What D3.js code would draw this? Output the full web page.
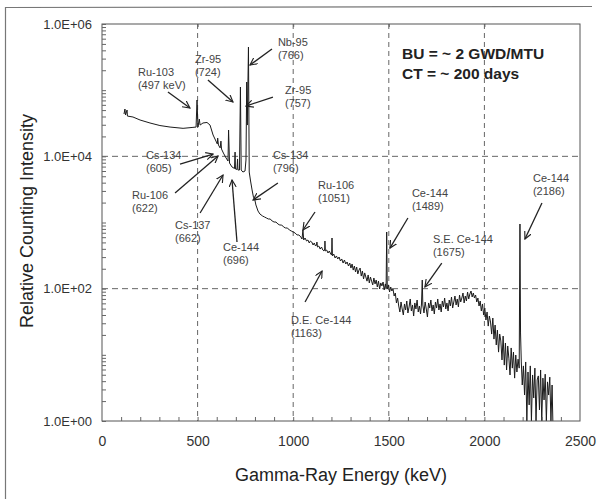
<!DOCTYPE html>
<html>
<head>
<meta charset="utf-8">
<style>
  body { margin: 0; background: #fff; }
  svg { display: block; font-family: "Liberation Sans", Arial, sans-serif; }
</style>
</head>
<body>
<svg id="chart" width="600" height="501"></svg>
<script src="https://cdn.jsdelivr.net/npm/d3@7"></script>
<script>
// gamma spectrum: energy (keV) / relative counting intensity
const spectrumKeV = [
  115, 120, 123, 131, 133, 162, 199, 251, 303, 356, 424, 471, 492, 497, 502, 509, 513, 528, 549, 565,
  581, 596, 603, 605, 609, 618, 622, 625, 635, 649, 659, 662, 667, 680, 693, 696, 698, 706, 709, 711,
  719, 724, 728, 737, 748, 753, 757, 760, 766, 770, 777, 785, 792, 798, 805, 816, 826,
  840, 850, 860, 870, 880, 890, 900, 910, 920, 930, 940, 950, 960, 970, 980, 990, 1000, 1010, 1020, 1030, 1040,
  1046, 1051, 1055, 1062, 1070, 1077, 1084, 1090, 1097, 1104, 1110, 1117, 1122, 1124, 1127, 1134, 1141, 1148, 1155, 1161,
  1165, 1166, 1168, 1175, 1182, 1189, 1196, 1201, 1203, 1205, 1212, 1219, 1226, 1233, 1240, 1247, 1254, 1261, 1268, 1275,
  1282, 1289, 1296,
  1302, 1308, 1314, 1320, 1326, 1332, 1338, 1344, 1350, 1356, 1362, 1368, 1374, 1380, 1386, 1392, 1398, 1404, 1410, 1416,
  1422, 1428, 1434, 1440, 1446, 1452, 1458, 1464, 1470, 1476, 1482, 1486, 1489, 1492, 1498, 1504, 1510, 1516, 1522, 1528,
  1534, 1540, 1546, 1552,
  1558, 1564, 1570, 1576, 1582, 1588, 1594, 1600, 1606, 1612, 1618, 1624, 1630, 1636, 1642, 1648, 1654, 1660, 1666, 1671,
  1675, 1678, 1684, 1690, 1696, 1702, 1708, 1714, 1720, 1726, 1732, 1738, 1744, 1750, 1756, 1762, 1768, 1774, 1780, 1786,
  1792, 1798, 1804, 1810, 1816, 1822, 1828, 1834, 1840, 1846, 1852, 1858, 1864, 1870, 1876, 1882, 1888, 1894, 1900, 1906,
  1912, 1918, 1924, 1930, 1936, 1942, 1948, 1954, 1960,
  1966, 1972, 1978, 1984, 1990, 1996, 2002, 2008, 2014, 2020, 2026, 2032, 2038, 2044, 2050, 2056, 2062, 2068, 2074, 2080,
  2086, 2092, 2098, 2104, 2110, 2116, 2122, 2128, 2134, 2140, 2146, 2152, 2158, 2164, 2170, 2176, 2182, 2186, 2189, 2193,
  2198, 2204, 2210, 2216, 2222, 2228, 2234, 2240, 2246, 2252, 2258, 2264, 2270, 2276, 2282, 2288, 2294, 2300, 2306, 2312,
  2318, 2324, 2330, 2336, 2342, 2348, 2354, 2358
];
const spectrumCounts = [
  43600, 51900, 42100, 50100, 40600, 39300, 35400, 31900, 29200, 27700, 26500, 27300, 27700, 71000, 27700, 36600, 29700, 31900, 32500, 29700,
  21000, 17000, 15400, 18900, 14800, 13400, 17000, 12900, 11200, 9440, 8490, 25000, 7920, 6900, 6550, 11600, 6430, 6350, 9120, 6210,
  6210, 111600, 6210, 5790, 6000, 8800, 132800, 29700, 449000, 5790, 4240, 3100, 2430, 2300, 1840, 1490, 1343,
  1253, 1210, 1169, 1130, 1130, 1053, 1017, 1017, 949, 916, 916, 855, 826, 826, 770, 744, 718, 694, 648, 648, 604,
  563, 770, 544, 583, 525, 544, 490, 525, 507, 457, 490, 441, 457, 507, 426, 441, 397, 426, 384, 371,
  397, 525, 371, 384, 346, 371, 334, 323, 583, 312, 334, 291, 312, 281, 301, 262, 281, 244, 271, 236,
  253, 220, 244,
  205, 236, 191, 220, 179, 212, 167, 191, 205, 155, 185, 140, 173, 150, 130, 161, 122, 150, 130, 114,
  145, 118, 135, 106, 130, 98.9, 122, 110, 126, 95.5, 118, 102, 718, 98.9, 114, 89.0, 106, 92.2, 98.9, 77.4,
  86.0, 60.8, 72.2, 54.7,
  44.4, 62.9, 49.3, 40.0, 58.7, 47.6, 65.1, 42.9, 52.9, 69.8, 46.0, 56.7, 38.6, 60.8, 49.3, 67.4, 44.4, 54.7, 41.4, 58.7,
  135, 56.7, 42.9, 62.9, 49.3, 37.3, 60.8, 51.0, 67.4, 46.0, 56.7, 41.4, 62.9, 51.0, 69.8, 47.6, 58.7, 44.4, 65.1, 52.9,
  72.2, 49.3, 60.8, 46.0, 67.4, 54.7, 74.8, 51.0, 62.9, 77.4, 56.7, 69.8, 52.9, 80.2, 62.9, 72.2, 86.0, 60.8, 77.4, 65.1,
  89.0, 69.8, 83.0, 92.2, 74.8, 86.0, 72.2, 80.2, 62.9,
  72.2, 54.7, 65.1, 46.0, 58.7, 40.0, 51.0, 33.6, 44.4, 27.2, 38.6, 31.3, 20.6, 36.0, 17.3, 28.2, 14.1, 23.7, 11.0, 20.6,
  16.2, 8.36, 19.2, 7.0, 15.1, 5.9, 13.6, 8.9, 4.96, 12.7, 6.3, 11.0, 4.45, 9.94, 5.5, 8.6, 6.3, 949, 21.4, 7.8,
  3.5, 6.8, 2.47, 7.8, 1, 5.5, 1.75, 6.8, 1, 4.96, 2.23, 6.3, 1, 4.17, 4.8, 1.47, 5.9, 1, 4.45, 2.08,
  5.1, 1, 3.9, 2.47, 4.6, 1, 3.5, 1
];

const xTicks = [0, 500, 1000, 1500, 2000, 2500];
const yTicks = [1, 1e2, 1e4, 1e6];
const yTickLabels = ["1.0E+00", "1.0E+02", "1.0E+04", "1.0E+06"];
const gridKeV = [500, 1000, 1500, 2000];
const gridCounts = [1e2, 1e4];

// peak call-outs: name, energy line, label corner, arrow tail, arrow head (keV, intensity)
const peakNames = ["Ru-103", "Zr-95", "Nb-95", "Zr-95", "Cs-134", "Ru-106", "Cs-137", "Ce-144",
  "Cs-134", "Ru-106", "D.E. Ce-144", "Ce-144", "S.E. Ce-144", "Ce-144"];
const peakLines = ["(497 keV)", "(724)", "(766)", "(757)", "(605)", "(622)", "(662)", "(696)",
  "(796)", "(1051)", "(1163)", "(1489)", "(1675)", "(2186)"];
const labelAt = [[188, 188000], [486, 296000], [920, 534000], [957, 100500], [230, 10470], [157, 2600],
  [382, 916], [633, 426], [894, 10470], [1130, 3690], [988, 33.6], [1621, 2790], [1731, 563], [2254, 4700]];
const arrowFrom = [[345, 93800], [554, 142000], [889, 419000], [894, 78800], [408, 7650], [382, 2790],
  [513, 1391], [706, 507], [920, 3950], [1114, 1441], [1062, 62.9], [1600, 1169], [1777, 244], [2301, 1972]];
const arrowTo = [[460, 53700], [685, 66200], [774, 240000], [753, 57600], [581, 10840], [607, 10110],
  [633, 5220], [680, 4390], [790, 2188], [1051, 770], [1151, 185], [1506, 411], [1689, 106], [2212, 563]];

const infoLines = ["BU = ~ 2 GWD/MTU", "CT = ~ 200 days"];

const svg = d3.select("#chart");
const plotL = 102, plotR = 580, plotT = 24, plotB = 421;

const x = d3.scaleLinear().domain([0, 2500]).range([plotL, plotR]);
const y = d3.scaleLog().domain([1, 1e6]).range([plotB, plotT]).clamp(true);

// scanned page frame
svg.append("path")
  .attr("d", "M5.5,499 L5.5,7.5 L592,6.5")
  .attr("fill", "none").attr("stroke", "#777").attr("stroke-width", 1.2);

// grid
svg.append("g").selectAll("line").data(gridKeV).join("line")
  .attr("x1", d => x(d)).attr("x2", d => x(d))
  .attr("y1", plotT).attr("y2", plotB)
  .attr("stroke", "#666").attr("stroke-dasharray", "5,4");
svg.append("g").selectAll("line").data(gridCounts).join("line")
  .attr("x1", plotL).attr("x2", plotR)
  .attr("y1", d => y(d)).attr("y2", d => y(d))
  .attr("stroke", "#666").attr("stroke-dasharray", "6,4");

// spectrum
const pts = spectrumKeV.map((e, i) => [e, spectrumCounts[i]]);
svg.append("path")
  .datum(pts)
  .attr("fill", "none")
  .attr("stroke", "#1b1b1b")
  .attr("stroke-width", 1)
  .attr("stroke-linejoin", "round")
  .attr("d", d3.line().x(d => x(d[0])).y(d => y(d[1])));

// frame
svg.append("rect")
  .attr("x", plotL).attr("y", plotT)
  .attr("width", plotR - plotL).attr("height", plotB - plotT)
  .attr("fill", "none").attr("stroke", "#555").attr("stroke-width", 1);

// axes
const xAxis = svg.append("g")
  .attr("transform", `translate(0,${plotB})`)
  .call(d3.axisBottom(x).tickValues(xTicks).tickSize(0).tickPadding(15).tickFormat(d3.format("d")));
xAxis.select(".domain").remove();
xAxis.selectAll("text").attr("font-size", 14).attr("fill", "#333").attr("font-family", null);

const yAxis = svg.append("g")
  .attr("transform", `translate(${plotL},0)`)
  .call(d3.axisLeft(y).tickValues(yTicks).tickSize(0).tickPadding(10).tickFormat((d, i) => yTickLabels[i]));
yAxis.select(".domain").remove();
yAxis.selectAll("text").attr("font-size", 13).attr("fill", "#333").attr("font-family", null);

// minor ticks pointing inward
const yMinor = svg.append("g")
  .attr("transform", `translate(${plotL},0)`)
  .call(d3.axisRight(y).tickValues(y.ticks()).tickSize(4).tickFormat(""));
yMinor.select(".domain").remove();
yMinor.selectAll("line").attr("stroke", "#666");

const xMinor = svg.append("g")
  .attr("transform", `translate(0,${plotB})`)
  .call(d3.axisTop(x).tickValues(d3.range(100, 2500, 100)).tickSize(4).tickFormat(""));
xMinor.select(".domain").remove();
xMinor.selectAll("line").attr("stroke", "#666");

const xTop = svg.append("g")
  .attr("transform", `translate(0,${plotT})`)
  .call(d3.axisBottom(x).tickValues(gridKeV).tickSize(3).tickFormat(""));
xTop.select(".domain").remove();
xTop.selectAll("line").attr("stroke", "#666");

// axis titles
svg.append("text")
  .attr("x", (plotL + plotR) / 2).attr("y", 481)
  .attr("text-anchor", "middle").attr("font-size", 18).attr("fill", "#222")
  .text("Gamma-Ray Energy (keV)");
svg.append("text")
  .attr("transform", "translate(33,221) rotate(-90)")
  .attr("text-anchor", "middle").attr("font-size", 18).attr("fill", "#222")
  .text("Relative Counting Intensity");

// info box
svg.append("g").selectAll("text").data(infoLines).join("text")
  .attr("x", 402).attr("y", (d, i) => 58.5 + i * 20)
  .attr("font-size", 15.5).attr("font-weight", "bold").attr("fill", "#222")
  .text(d => d);

// arrows
svg.append("defs").append("marker")
  .attr("id", "head").attr("viewBox", "0 -5 10 10")
  .attr("refX", 9).attr("refY", 0)
  .attr("markerWidth", 8).attr("markerHeight", 8)
  .attr("markerUnits", "userSpaceOnUse").attr("orient", "auto")
  .append("path").attr("d", "M0,-4.5L9,0L0,4.5")
  .attr("fill", "none").attr("stroke", "#222").attr("stroke-width", 1.4);

svg.append("g").selectAll("line").data(arrowFrom).join("line")
  .attr("x1", d => x(d[0])).attr("y1", d => y(d[1]))
  .attr("x2", (d, i) => x(arrowTo[i][0])).attr("y2", (d, i) => y(arrowTo[i][1]))
  .attr("stroke", "#222").attr("stroke-width", 1.3)
  .attr("marker-end", "url(#head)");

// labels
const lab = svg.append("g").selectAll("text").data(labelAt).join("text")
  .attr("font-size", 11).attr("fill", "#444");
lab.append("tspan")
  .attr("x", d => x(d[0])).attr("y", d => y(d[1]) + 4)
  .text((d, i) => peakNames[i]);
lab.append("tspan")
  .attr("x", d => x(d[0])).attr("y", d => y(d[1]) + 17)
  .text((d, i) => peakLines[i]);
</script>
</body>
</html>
